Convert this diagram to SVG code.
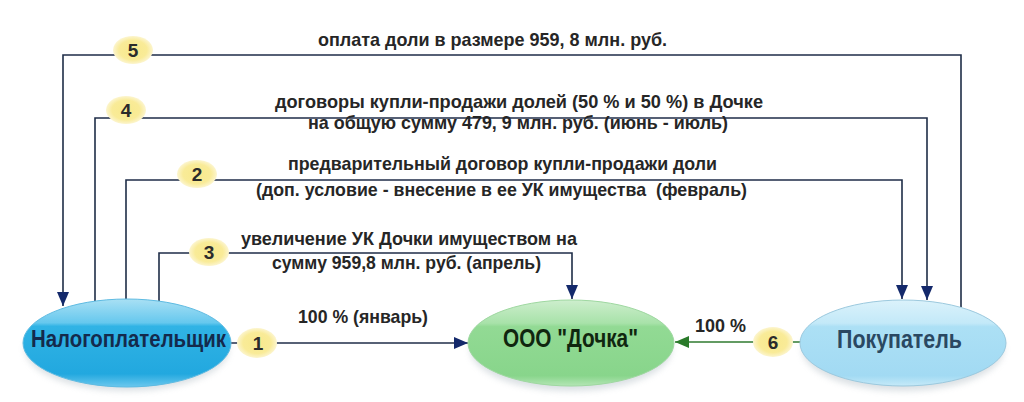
<svg xmlns="http://www.w3.org/2000/svg" width="1024" height="402" viewBox="0 0 1024 402">
<style>
.ln{fill:none;stroke:#1f2d48;stroke-width:1.6}
.lng{fill:none;stroke:#2f7a2f;stroke-width:1.6}
.lbl{font-family:"Liberation Sans",Arial,sans-serif;font-weight:bold;font-size:19px;fill:#262626}
.num{font-family:"Liberation Sans",Arial,sans-serif;font-weight:bold;font-size:19px;fill:#2b2b2b;text-anchor:middle}
.nt{font-family:"Liberation Sans",Arial,sans-serif;font-weight:bold;font-size:25px}
.badge{fill:url(#gBadge)}
</style>
<defs>
<marker id="arrB" markerUnits="userSpaceOnUse" markerWidth="14" markerHeight="12" refX="14" refY="6" orient="auto">
<path d="M0,0 L14,6 L0,12 z" fill="#14296b"/>
</marker>
<marker id="arrG" markerUnits="userSpaceOnUse" markerWidth="14" markerHeight="12" refX="14" refY="6" orient="auto">
<path d="M0,0 L14,6 L0,12 z" fill="#2a7a2a"/>
</marker>
<radialGradient id="gBadge" cx="0.5" cy="0.5" r="0.5">
<stop offset="0" stop-color="#f8e98c"/>
<stop offset="0.7" stop-color="#f9eb98"/>
<stop offset="1" stop-color="#fcf5cf"/>
</radialGradient>
<linearGradient id="gTax" x1="0" y1="0" x2="0" y2="1">
<stop offset="0" stop-color="#a9e0f4"/>
<stop offset="0.27" stop-color="#66c8ee"/>
<stop offset="0.31" stop-color="#30b3e5"/>
<stop offset="0.85" stop-color="#22a8df"/>
<stop offset="1" stop-color="#6cc8ee"/>
</linearGradient>
<linearGradient id="gDau" x1="0" y1="0" x2="0" y2="1">
<stop offset="0" stop-color="#cdeecd"/>
<stop offset="0.27" stop-color="#a8e2a9"/>
<stop offset="0.31" stop-color="#92da94"/>
<stop offset="0.88" stop-color="#88d58b"/>
<stop offset="1" stop-color="#b4e6b5"/>
</linearGradient>
<linearGradient id="gBuy" x1="0" y1="0" x2="0" y2="1">
<stop offset="0" stop-color="#dbf2fb"/>
<stop offset="0.27" stop-color="#c3e9f8"/>
<stop offset="0.31" stop-color="#ace0f5"/>
<stop offset="0.88" stop-color="#a2daf3"/>
<stop offset="1" stop-color="#c6eaf8"/>
</linearGradient>
<filter id="sh" x="-20%" y="-20%" width="140%" height="160%">
<feGaussianBlur stdDeviation="3"/>
</filter>
</defs>

<g id="connectors">
<path class="ln" d="M961,307 V55 H63 V306" marker-end="url(#arrB)"/>
<path class="ln" d="M95,301 V118 H927 V300" marker-end="url(#arrB)"/>
<path class="ln" d="M126,299 V180 H902 V299" marker-end="url(#arrB)"/>
<path class="ln" d="M159,301 V253 H572 V299" marker-end="url(#arrB)"/>
<path class="ln" d="M226,343 H468" marker-end="url(#arrB)"/>
<path class="lng" d="M802,342 H675" marker-end="url(#arrG)"/>
</g>

<g id="labels">
<text class="lbl" x="318" y="46" textLength="349" lengthAdjust="spacingAndGlyphs">оплата доли в размере 959, 8 млн. руб.</text>
<text class="lbl" x="275" y="108" textLength="488" lengthAdjust="spacingAndGlyphs">договоры купли-продажи долей (50 % и 50 %) в Дочке</text>
<text class="lbl" x="308" y="129" textLength="420" lengthAdjust="spacingAndGlyphs">на общую сумму 479, 9 млн. руб. (июнь - июль)</text>
<text class="lbl" x="288" y="170" textLength="429" lengthAdjust="spacingAndGlyphs">предварительный договор купли-продажи доли</text>
<text class="lbl" x="256" y="196" textLength="491" lengthAdjust="spacingAndGlyphs" xml:space="preserve">(доп. условие - внесение в ее УК имущества  (февраль)</text>
<text class="lbl" x="241" y="245" textLength="336" lengthAdjust="spacingAndGlyphs">увеличение УК Дочки имуществом на</text>
<text class="lbl" x="272" y="269" textLength="269" lengthAdjust="spacingAndGlyphs">сумму 959,8 млн. руб. (апрель)</text>
<text class="lbl" x="298" y="323" textLength="130" lengthAdjust="spacingAndGlyphs">100 % (январь)</text>
<text class="lbl" x="695" y="332" textLength="51" lengthAdjust="spacingAndGlyphs">100 %</text>
</g>

<g id="badges">
<g id="badge5"><ellipse class="badge" cx="133" cy="50" rx="20" ry="14"/><text class="num" x="133" y="57">5</text></g>
<g id="badge4"><ellipse class="badge" cx="126" cy="110" rx="20" ry="14"/><text class="num" x="126" y="117">4</text></g>
<g id="badge2"><ellipse class="badge" cx="197" cy="174" rx="20" ry="14"/><text class="num" x="197" y="181">2</text></g>
<g id="badge3"><ellipse class="badge" cx="209" cy="252" rx="20" ry="14"/><text class="num" x="209" y="259">3</text></g>
<g id="badge1"><ellipse class="badge" cx="257" cy="343" rx="20" ry="15"/><text class="num" x="258" y="350">1</text></g>
<g id="badge6"><ellipse class="badge" cx="773" cy="342" rx="20" ry="15"/><text class="num" x="773" y="349">6</text></g>
</g>

<g id="node-taxpayer">
<ellipse cx="127" cy="349" rx="102" ry="42" fill="#9aa9b3" opacity="0.35" filter="url(#sh)"/>
<ellipse cx="127" cy="343" rx="104" ry="44" fill="url(#gTax)" stroke="#5fbbe2" stroke-width="1"/>
<text class="nt" x="31" y="347" style="font-size:23px" textLength="195" lengthAdjust="spacingAndGlyphs" fill="#142a4c">Налогоплательщик</text>
</g>

<g id="node-daughter">
<ellipse cx="571" cy="349" rx="101" ry="42" fill="#9aa9b3" opacity="0.35" filter="url(#sh)"/>
<ellipse cx="571" cy="343" rx="103" ry="43" fill="url(#gDau)" stroke="#9fd8a1" stroke-width="1"/>
<text class="nt" x="503" y="347" textLength="135" lengthAdjust="spacingAndGlyphs" fill="#10260f">ООО "Дочка"</text>
</g>

<g id="node-buyer">
<ellipse cx="903" cy="349" rx="101" ry="42" fill="#9aa9b3" opacity="0.35" filter="url(#sh)"/>
<ellipse cx="903" cy="343" rx="103" ry="43" fill="url(#gBuy)" stroke="#9cc9de" stroke-width="1"/>
<text class="nt" x="837" y="348" textLength="125" lengthAdjust="spacingAndGlyphs" fill="#2a4862">Покупатель</text>
</g>
</svg>
